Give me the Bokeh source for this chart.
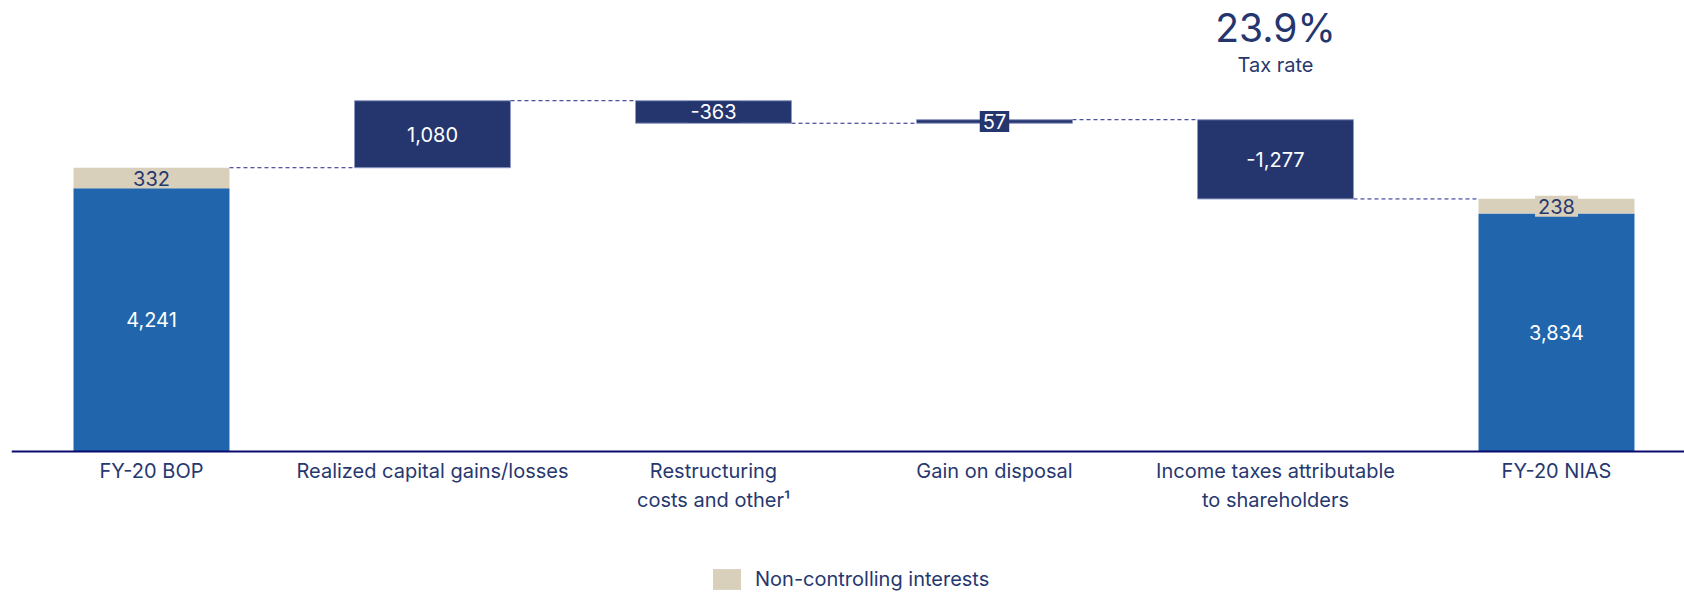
from bokeh.plotting import figure
from bokeh.models import ColumnDataSource, Range1d, LinearAxis, FixedTicker, Legend, LegendItem
from bokeh.core.properties import value
from bokeh.embed import file_html
from bokeh.resources import INLINE

# ---------------- data ----------------
categories = ["FY-20 BOP", "Realized capital gains/losses", "Restructuring\ncosts and other\u00b9",
              "Gain on disposal", "Income taxes attributable\nto shareholders", "FY-20 NIAS"]
start_nias = 4241
start_nci = 332
delta_values = [1080, -363, 57, -1277]
end_nias = 3834
end_nci = 238
tax_rate_text = "23.9%"
tax_rate_caption = "Tax rate"
legend_text = "Non-controlling interests"

# ---------------- styling ----------------
FONT = "Inter"
NAVY = "#25366f"
BLUE = "#2166ac"
BEIGE = "#d9d0bb"
TXT = "#27386f"
W = 0.555

def fmt(v):
    return f"{v:,}"

# totals (first and last bar)
tot_x = [0, len(categories) - 1]
tot_nias = [start_nias, end_nias]
tot_nci = [start_nci, end_nci]
tot_top = [a + b for a, b in zip(tot_nias, tot_nci)]

# floating delta bars
level = start_nias + start_nci
d_x, d_bot, d_top = [], [], []
levels = [level]
for i, d in enumerate(delta_values):
    nxt = level + d
    d_x.append(i + 1)
    d_bot.append(min(level, nxt))
    d_top.append(max(level, nxt))
    level = nxt
    levels.append(level)

p = figure(width=1684, height=592, output_backend="svg", toolbar_location=None,
           x_axis_type=None, y_axis_type=None,
           x_range=Range1d(-0.4982, 5.4555), y_range=Range1d(-2272, 7268),
           min_border_left=11, min_border_right=0, min_border_top=0, min_border_bottom=0)
p.outline_line_color = None
p.xgrid.visible = False
p.ygrid.visible = False
p.background_fill_color = "white"
p.border_fill_color = "white"

# connectors
cx0 = [i + W / 2 for i in range(len(levels))]
cx1 = [i + 1 - W / 2 for i in range(len(levels))]
p.segment(x0=cx0, x1=cx1, y0=levels, y1=levels, line_color="#22228a",
          line_width=1, line_dash="4 3")

# total bars
tsrc = ColumnDataSource(dict(x=tot_x, nias=tot_nias, top=tot_top,
                             nci_lbl=[fmt(v) for v in tot_nci],
                             nias_lbl=[fmt(v) for v in tot_nias],
                             nias_mid=[v / 2 for v in tot_nias],
                             nci_mid=[(a + b) / 2 for a, b in zip(tot_nias, tot_top)],
                             box_alpha=[0.0, 1.0]))
p.vbar(x="x", bottom=0, top="nias", width=W, source=tsrc, fill_color=BLUE, line_color=None)
nci_r = p.vbar(x="x", bottom="nias", top="top", width=W, source=tsrc, fill_color=BEIGE, line_color=None)

# delta bars
dsrc = ColumnDataSource(dict(x=d_x, bot=d_bot, top=d_top,
                             mid=[(a + b) / 2 for a, b in zip(d_bot, d_top)],
                             lbl=[fmt(v) for v in delta_values]))
p.vbar(x="x", bottom="bot", top="top", width=W, source=dsrc, fill_color=NAVY,
       line_color="#8f98c4", line_width=1)

# labels
p.text(x="x", y="nias_mid", text="nias_lbl", source=tsrc, text_align="center",
       text_baseline="middle", text_font=value(FONT), text_font_size="20px", text_color="white")
p.text(x="x", y="nci_mid", text="nci_lbl", source=tsrc, text_align="center",
       text_baseline="middle", text_font=value(FONT), text_font_size="20px", text_color=TXT,
       background_fill_color=BEIGE, background_fill_alpha="box_alpha", padding=3)
p.text(x="x", y="mid", text="lbl", source=dsrc, text_align="center",
       text_baseline="middle", text_font=value(FONT), text_font_size="20px", text_color="white",
       background_fill_color=NAVY, padding=3)

# tax rate annotation above the tax bar
tax_x = len(categories) - 2
p.text(x=[tax_x], y=[6830], text=[tax_rate_text], text_align="center", text_baseline="middle",
       text_font=value(FONT), text_font_size="39px", text_color=NAVY)
p.text(x=[tax_x], y=[6230], text=[tax_rate_caption], text_align="center", text_baseline="middle",
       text_font=value(FONT), text_font_size="20px", text_color=TXT)

# category axis at the baseline
xaxis = LinearAxis(ticker=FixedTicker(ticks=list(range(len(categories)))),
                   major_label_overrides={i: c for i, c in enumerate(categories)},
                   fixed_location=0)
xaxis.axis_line_color = "#0a0a6e"
xaxis.axis_line_width = 2
xaxis.major_tick_line_color = None
xaxis.minor_tick_line_color = None
xaxis.major_label_standoff = 1
xaxis.major_label_text_font = FONT
xaxis.major_label_text_font_size = "20px"
xaxis.major_label_text_color = TXT
xaxis.major_label_text_line_height = 1.23
p.add_layout(xaxis, "below")

legend = Legend(items=[LegendItem(label=legend_text, renderers=[nci_r])], location=(698, 0),
                border_line_color=None, background_fill_alpha=0, padding=0, margin=0, spacing=0,
                glyph_width=35, glyph_height=26, label_height=26, label_standoff=11,
                label_text_font=FONT, label_text_font_size="20px", label_text_color=TXT)
p.add_layout(legend)

open("out.html", "w").write(file_html(p, INLINE))
